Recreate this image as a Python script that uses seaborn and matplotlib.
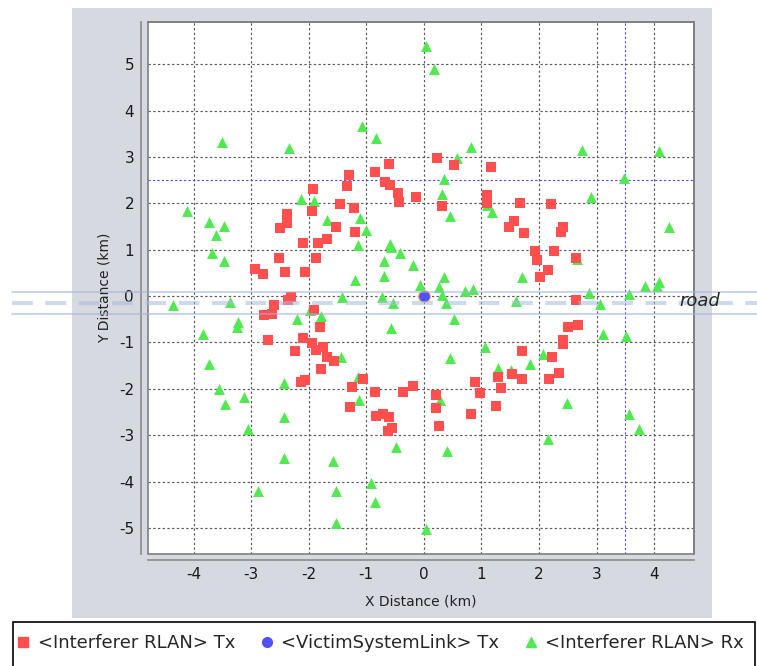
import pandas as pd
import seaborn as sns
import matplotlib.pyplot as plt
from matplotlib.lines import Line2D
from matplotlib.patches import Rectangle

# <Interferer RLAN> Tx positions (km)
tx_x = [-0.60, -0.85, -1.30, -1.33, -0.67, -0.59, -0.45, -0.43, -0.13, -1.92,
        -1.95, -1.45, -1.22, -2.37, -2.37, -2.50, -1.53, -1.68, -1.84, -2.10,
        -1.20, -1.87, -2.52, -2.94, -2.79, -2.41, -2.07, -2.30, -2.36, -2.60,
        -1.90, -2.77, -2.64, -1.81, -2.71, -2.24, -2.10, -1.94, -1.87, -1.76,
        -1.69, -1.56, -1.78, -2.13, -2.06, -1.06, -1.25, -0.85, -1.28, -0.36,
        -0.19, -0.83, -0.71, -0.60, -0.56, -0.62, 0.21, 0.21, 0.27, 0.82,
        0.89, 0.97, 1.28, 1.34, 1.26, 1.53, 1.70, 1.70, 2.22, 2.35,
        2.18, 2.42, 2.41, 2.51, 2.68, 2.64, 0.23, 0.52, 1.16, 0.31,
        1.09, 1.09, 1.67, 2.21, 1.57, 1.47, 1.73, 2.41, 2.38, 1.93,
        1.97, 2.26, 2.64, 2.15, 2.01]
tx_y = [2.84, 2.67, 2.61, 2.37, 2.46, 2.39, 2.23, 2.03, 2.13, 2.30,
        1.84, 1.98, 1.91, 1.76, 1.58, 1.46, 1.49, 1.24, 1.15, 1.15,
        1.39, 0.83, 0.83, 0.58, 0.48, 0.52, 0.52, -0.01, -0.08, -0.20,
        -0.29, -0.40, -0.38, -0.66, -0.94, -1.18, -0.91, -1.02, -1.16, -1.09,
        -1.31, -1.39, -1.57, -1.85, -1.81, -1.79, -1.95, -2.06, -2.40, -2.06,
        -1.93, -2.59, -2.55, -2.60, -2.85, -2.91, -2.13, -2.41, -2.80, -2.55,
        -1.85, -2.10, -1.75, -1.99, -2.37, -1.68, -1.79, -1.19, -1.32, -1.65,
        -1.79, -0.95, -1.03, -0.66, -0.63, -0.08, 2.97, 2.82, 2.79, 1.95,
        2.18, 2.00, 2.01, 1.98, 1.62, 1.49, 1.35, 1.49, 1.39, 0.97,
        0.78, 0.97, 0.83, 0.56, 0.41]

# <Interferer RLAN> Rx positions (km)
rx_x = [0.03, 0.17, -1.08, -0.83, -3.50, -2.35, -4.12, -2.14, -1.90, -3.73,
        -3.47, -3.61, -3.68, -3.47, -1.68, -1.11, -1.01, -1.14, -0.59, -0.57,
        -0.41, -0.69, -0.19, -0.69, -1.19, -0.07, -1.42, -0.72, -0.54, -3.36,
        -4.35, 0.82, 0.58, 2.74, 4.09, 0.35, 3.47, 0.31, 2.91, 0.46,
        1.09, 1.19, 4.26, 1.70, 0.35, 0.27, 0.71, 0.85, 0.31, 0.39,
        1.60, 2.86, 3.06, 3.56, 3.84, 4.05, 4.09, 2.65, -3.84, -3.22,
        -3.25, -2.21, -1.78, -1.98, -0.57, -3.73, -1.44, -1.14, -1.12, -2.43,
        -3.56, -3.46, -3.13, -3.06, -2.43, -0.49, -2.43, -1.57, -2.88, -1.53,
        -0.92, -0.85, -1.53, 0.04, 0.53, 3.11, 3.51, 1.06, 0.46, 2.07,
        1.28, 1.52, 1.84, 0.28, 2.49, 3.56, 3.73, 2.16, 0.41]
rx_y = [5.39, 4.90, 3.67, 3.40, 3.33, 3.20, 1.83, 2.10, 2.05, 1.59,
        1.52, 1.31, 0.93, 0.76, 1.65, 1.69, 1.42, 1.10, 1.13, 1.05,
        0.93, 0.76, 0.68, 0.44, 0.34, 0.24, -0.01, -0.03, -0.15, -0.12,
        -0.19, 3.22, 2.97, 3.16, 3.13, 2.52, 2.54, 2.20, 2.14, 1.73,
        1.96, 1.82, 1.48, 0.41, 0.41, 0.20, 0.11, 0.15, 0.03, -0.15,
        -0.11, 0.06, -0.16, 0.05, 0.21, 0.22, 0.31, 0.80, -0.81, -0.56,
        -0.67, -0.50, -0.42, -0.30, -0.68, -1.47, -1.31, -1.75, -2.23, -1.87,
        -2.00, -2.33, -2.17, -2.87, -2.61, -3.25, -3.50, -3.55, -4.20, -4.20,
        -4.04, -4.43, -4.89, -5.03, -0.50, -0.81, -0.85, -1.09, -1.34, -1.24,
        -1.56, -1.59, -1.47, -2.23, -2.31, -2.55, -2.87, -3.09, -3.33]

# <VictimSystemLink> Tx
victim_x = [0.0]
victim_y = [0.0]

series = ['<Interferer RLAN> Tx', '<VictimSystemLink> Tx', '<Interferer RLAN> Rx']
x_ticks = [-4, -3, -2, -1, 0, 1, 2, 3, 4]
y_ticks = [-5, -4, -3, -2, -1, 0, 1, 2, 3, 4, 5]
x_range = (-4.79, 4.69)
y_range = (-5.55, 5.91)
marker_x = 3.5
marker_y = 2.5

red = '#ff4f4f'
blue = '#5050ff'
green = '#50ea50'

sns.set_theme(style='white')
plt.rcParams['font.family'] = ['DejaVu Sans']
plt.rcParams['axes.unicode_minus'] = False

W, H = 757, 666
fig = plt.figure(figsize=(W / 100, H / 100), dpi=100)
fig.patch.set_facecolor('white')


def fx(px):
    return px / W


def fy(py):
    return 1 - py / H


# grey chart panel
fig.patches.append(Rectangle((fx(72), fy(618)), 640 / W, 610 / H,
                             transform=fig.transFigure, facecolor='#d6d9df',
                             edgecolor='none', zorder=-2))

ax = fig.add_axes([fx(148), fy(553.5), 546 / W, 531.5 / H])
ax.set_zorder(2)
ax.set_facecolor('white')

rx = pd.DataFrame({'x': rx_x, 'y': rx_y})
tx = pd.DataFrame({'x': tx_x, 'y': tx_y})
vic = pd.DataFrame({'x': victim_x, 'y': victim_y})

sns.scatterplot(data=rx, x='x', y='y', marker='^', s=62, color=green,
                linewidth=0, ax=ax, zorder=3)
sns.scatterplot(data=tx, x='x', y='y', marker='s', s=55, color=red,
                linewidth=0, ax=ax, zorder=4)
sns.scatterplot(data=vic, x='x', y='y', marker='o', s=85, color='#f0b040',
                linewidth=0, ax=ax, zorder=5)
sns.scatterplot(data=vic, x='x', y='y', marker='o', s=60, color=blue,
                linewidth=0, ax=ax, zorder=6)

ax.set_xlim(*x_range)
ax.set_ylim(*y_range)
ax.set_xticks(x_ticks)
ax.set_yticks(y_ticks)
ax.set_axisbelow(True)
ax.grid(True, color='#5a5a5a', linestyle=(0, (2, 2)), linewidth=0.85)
ax.axvline(marker_x, color='#4848ff', linestyle=(0, (2, 2)), linewidth=0.8, zorder=2)
ax.axhline(marker_y, color='#4848ff', linestyle=(0, (2, 2)), linewidth=0.8, zorder=2)

for side in ['top', 'right']:
    ax.spines[side].set_color('#808080')
for side in ['left', 'bottom']:
    ax.spines[side].set_position(('outward', 5))
    ax.spines[side].set_color('#8c8c8c')
    ax.spines[side].set_linewidth(1.2)
ax.add_patch(Rectangle((0, 0), 1, 1, transform=ax.transAxes, fill=False,
                       edgecolor='#808080', linewidth=1.2, clip_on=False, zorder=7))

ax.tick_params(direction='out', length=3, width=0.8, color='#808080',
               labelsize=11, labelcolor='#1a1a1a', pad=2)
ax.set_xlabel('X Distance (km)', fontsize=10, color='#222222', labelpad=9)
ax.set_ylabel('Y Distance (km)', fontsize=10, color='#222222', labelpad=5)

# road overlay
fig.add_artist(Line2D([fx(12), 1], [fy(291.7), fy(291.7)], color='#9fb3dc',
                      linewidth=1.3, alpha=0.6, zorder=10))
fig.add_artist(Line2D([fx(12), 1], [fy(314), fy(314)], color='#9fb3dc',
                      linewidth=1.3, alpha=0.6, zorder=10))
fig.add_artist(Line2D([fx(12), 1], [fy(302.8), fy(302.8)], color='#a9bbe0',
                      linewidth=3, alpha=0.55, linestyle=(0, (5, 3)), zorder=10))
fig.text(fx(700), fy(301), 'road', fontsize=13, style='italic',
         ha='center', va='center', zorder=11)

# legend
fig.patches.append(Rectangle((fx(13), fy(670)), 742 / W, 48 / H,
                             transform=fig.transFigure, facecolor='white',
                             edgecolor='black', linewidth=1.2, zorder=-1))
handles = [
    Line2D([], [], marker='s', color=red, linestyle='none', markersize=7),
    Line2D([], [], marker='o', color=blue, linestyle='none', markersize=7),
    Line2D([], [], marker='^', color=green, linestyle='none', markersize=7),
]
fig.legend(handles, series, loc='center left', bbox_to_anchor=(fx(9), fy(643)),
           ncol=3, frameon=False, fontsize=13, handletextpad=0.4,
           columnspacing=1.35, handlelength=0.8, borderaxespad=0)

fig.savefig('out.png', dpi=100)
